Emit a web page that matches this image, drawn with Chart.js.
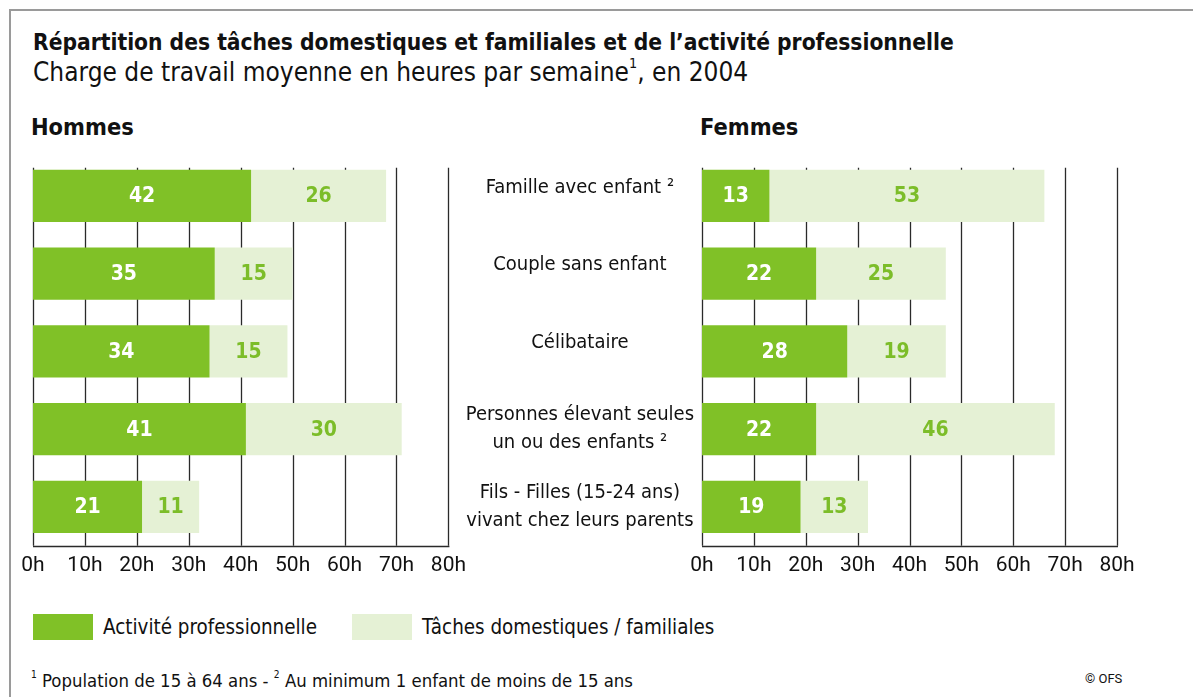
<!DOCTYPE html>
<html>
<head>
<meta charset="utf-8">
<script src="https://cdn.jsdelivr.net/npm/chart.js@4/dist/chart.umd.min.js"></script>
<style>
  html, body { margin: 0; padding: 0; background: #fff; }
  body { width: 1193px; height: 697px; position: relative; overflow: hidden;
         font-family: "DejaVu Sans Condensed", "Liberation Sans Narrow", "Roboto", sans-serif; color: #111; }
  .frame { position: absolute; left: 9px; top: 9px; width: 1190px; height: 700px;
           border-top: 2px solid #9a9a9a; border-left: 2px solid #9a9a9a; }
  .abs { position: absolute; white-space: nowrap; }
  #title { left: 33px; top: 29px; font-size: 22.6px; font-weight: bold; }
  #subtitle { left: 33px; top: 57px; font-size: 26px; }
  #subtitle sup, #foot sup { font-size: 55%; position: relative; top: -0.2em; }
  .panel { font-size: 23.4px; font-weight: bold; top: 113px; }
  #hommes { left: 31px; }
  #femmes { left: 700px; }
  #cL { position: absolute; left: 13px; top: 150px; }
  #cR { position: absolute; left: 460px; top: 150px; }
  .lg-box { position: absolute; width: 60px; height: 26px; top: 614px; }
  .lg-txt { position: absolute; top: 615px; font-size: 20.4px; }
  #foot { left: 31px; top: 670px; font-size: 18.4px; }
  #ofs { left: 1085px; top: 671px; font-size: 13px; font-family: "Roboto", "Liberation Sans", sans-serif; }
</style>
</head>
<body>
<div class="frame"></div>
<div class="abs" id="title">Répartition des tâches domestiques et familiales et de l’activité professionnelle</div>
<div class="abs" id="subtitle">Charge de travail moyenne en heures par semaine<sup>1</sup>, en 2004</div>
<div class="abs panel" id="hommes">Hommes</div>
<div class="abs panel" id="femmes">Femmes</div>
<canvas id="cL" width="460" height="435"></canvas>
<canvas id="cR" width="730" height="435"></canvas>
<div id="legend"></div>
<div class="abs" id="foot"><sup>1</sup> Population de 15 à 64 ans - <sup>2</sup> Au minimum 1 enfant de moins de 15 ans</div>
<div class="abs" id="ofs">© OFS</div>
<script>
// ---- data ----
const categories = [
  ["Famille avec enfant ²"],
  ["Couple sans enfant"],
  ["Célibataire"],
  ["Personnes élevant seules", "un ou des enfants ²"],
  ["Fils - Filles (15-24 ans)", "vivant chez leurs parents"]
];
const seriesNames = ["Activité professionnelle", "Tâches domestiques / familiales"];
const hommesPro = [42, 35, 34, 41, 21];
const hommesDom = [26, 15, 15, 30, 11];
const femmesPro = [13, 22, 28, 22, 19];
const femmesDom = [53, 25, 19, 46, 13];
const xTicks = [0, 10, 20, 30, 40, 50, 60, 70, 80];
const tickSuffix = "h";

// ---- styles ----
const DARK = "#80c127";
const LIGHT = "#e5f1d5";
const LABEL_GREEN = "#7cbd29";
const FONT = '"DejaVu Sans Condensed", "Liberation Sans Narrow", "Roboto", sans-serif';
const TICK_FONT = '"Roboto", "Liberation Sans", sans-serif';

// single-line category labels sit slightly above the bar centre in the original:
// pad them with an empty second line and a tighter line height
const axisLabels = categories.map(c => c.length === 1 ? [c[0], ""] : c);

// legend (HTML, built from names & colours)
const lg = document.getElementById('legend');
[[33, 103, DARK], [352, 422, LIGHT]].forEach((p, i) => {
  const b = document.createElement('div'); b.className = 'lg-box';
  b.style.left = p[0] + 'px'; b.style.background = p[2]; lg.appendChild(b);
  const t = document.createElement('div'); t.className = 'lg-txt abs';
  t.style.left = p[1] + 'px'; t.textContent = seriesNames[i]; lg.appendChild(t);
});

// gridline plugin: vertical lines from first bar top to axis bottom, plus baseline
const gridPlugin = {
  id: 'customGrid',
  beforeDatasetsDraw(chart) {
    const { ctx, chartArea, scales } = chart;
    const meta = chart.getDatasetMeta(0);
    const first = meta.data[0];
    const top = first.y - first.height / 2 - 2;
    ctx.save();
    ctx.strokeStyle = "#2a2a2a";
    ctx.lineWidth = 1.3;
    xTicks.forEach(v => {
      const x = Math.round(scales.x.getPixelForValue(v)) + 0.5;
      ctx.beginPath(); ctx.moveTo(x, top); ctx.lineTo(x, chartArea.bottom); ctx.stroke();
    });
    ctx.beginPath();
    ctx.moveTo(scales.x.getPixelForValue(xTicks[0]), Math.round(chartArea.bottom) + 0.5);
    ctx.lineTo(scales.x.getPixelForValue(xTicks[xTicks.length - 1]) + 1, Math.round(chartArea.bottom) + 0.5);
    ctx.stroke();
    ctx.restore();
  }
};

// value labels plugin
const labelPlugin = {
  id: 'valueLabels',
  afterDatasetsDraw(chart) {
    const { ctx } = chart;
    ctx.save();
    ctx.font = 'bold 21px ' + FONT;
    ctx.textAlign = 'center';
    ctx.textBaseline = 'middle';
    chart.data.datasets.forEach((ds, di) => {
      const meta = chart.getDatasetMeta(di);
      meta.data.forEach((bar, i) => {
        const cx = (bar.x + bar.base) / 2;
        ctx.fillStyle = di === 0 ? "#ffffff" : LABEL_GREEN;
        ctx.fillText(String(ds.data[i]), cx, bar.y + 1);
      });
    });
    ctx.restore();
  }
};

function makeChart(id, pro, dom, showY, padding) {
  return new Chart(document.getElementById(id), {
    type: 'bar',
    data: {
      labels: axisLabels,
      datasets: [
        { label: seriesNames[0], data: pro, backgroundColor: DARK, borderWidth: 0 },
        { label: seriesNames[1], data: dom, backgroundColor: LIGHT, borderWidth: 0 }
      ]
    },
    options: {
      indexAxis: 'y',
      responsive: false,
      animation: false,
      devicePixelRatio: 1,
      layout: { padding: padding },
      barPercentage: 0.67,
      categoryPercentage: 1.0,
      plugins: { legend: { display: false }, tooltip: { enabled: false } },
      scales: {
        x: {
          stacked: true, min: 0, max: 80,
          afterBuildTicks(scale) { scale.ticks = xTicks.map(v => ({ value: v })); },
          grid: { display: false, drawTicks: false },
          border: { display: false },
          ticks: {
            padding: 7,
            color: "#111",
            font: { family: TICK_FONT, size: 21 },
            callback: v => v + tickSuffix,
            maxRotation: 0, autoSkip: false
          }
        },
        y: {
          stacked: true,
          display: showY,
          grid: { display: false, drawTicks: false },
          border: { display: false },
          afterFit(scale) {
            if (showY) scale.width = 242;
            scale.paddingTop = 0; scale.paddingBottom = 0;
          },
          ticks: {
            crossAlign: 'center',
            padding: 8,
            color: "#111",
            font: (c) => ({
              family: FONT, size: 20,
              lineHeight: (categories[c.index] && categories[c.index].length === 1) ? 0.85 : 1.4
            })
          }
        }
      }
    },
    plugins: [gridPlugin, labelPlugin]
  });
}

makeChart('cL', hommesPro, hommesDom, false, { left: 20, right: 14, top: 7, bottom: 0 });
makeChart('cR', femmesPro, femmesDom, true, { left: 0, right: 73, top: 7, bottom: 0 });
</script>
</body>
</html>
